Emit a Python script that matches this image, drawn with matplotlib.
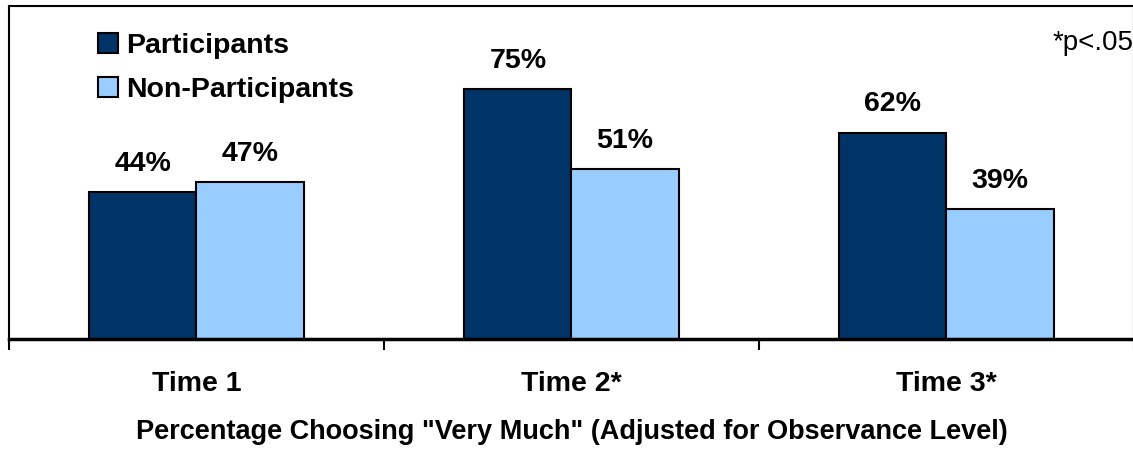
import matplotlib.pyplot as plt
import numpy as np

plt.rcParams['font.family'] = ['Liberation Sans', 'DejaVu Sans']

times = ['Time 1', 'Time 2*', 'Time 3*']
participants = [44, 75, 62]
non_participants = [47, 51, 39]

dark = '#003366'
light = '#99CCFF'

fig = plt.figure(figsize=(11.33, 4.53), dpi=100)
ax = fig.add_axes([9 / 1133, 1 - 339 / 453, 1125 / 1133, 333 / 453])

x = np.arange(len(times))
w = 0.286
b1 = ax.bar(x - w / 2, participants, w, color=dark, edgecolor='black',
            linewidth=1.5, label='Participants')
b2 = ax.bar(x + w / 2, non_participants, w, color=light, edgecolor='black',
            linewidth=1.5, label='Non-Participants')

for bars, vals in [(b1, participants), (b2, non_participants)]:
    for bar, v in zip(bars, vals):
        ax.annotate('%d%%' % v, (bar.get_x() + bar.get_width() / 2, v),
                    xytext=(0, 11), textcoords='offset points',
                    ha='center', va='bottom', fontsize=20.5, fontweight='bold')

ax.set_xlim(-0.5, 2.5)
ax.set_ylim(0, 100)
ax.set_yticks([])

# category labels at centres, tick marks on the boundaries
ax.set_xticks(x)
ax.set_xticklabels(times, fontsize=20.5, fontweight='bold')
ax.set_xticks([-0.5, 0.5, 1.5, 2.5], minor=True)
ax.tick_params(axis='x', which='major', length=0, pad=23)
ax.tick_params(axis='x', which='minor', direction='out', length=8, width=1.5)
ax.set_xlabel('Percentage Choosing "Very Much" (Adjusted for Observance Level)',
              fontsize=19.5, fontweight='bold', labelpad=16)

for s in ['left', 'top', 'right']:
    ax.spines[s].set_linewidth(1.5)
ax.spines['bottom'].set_linewidth(2.5)

ax.text(1.0, 0.89, '*p<.05', transform=ax.transAxes, ha='right',
        va='center', fontsize=20)

leg = ax.legend(loc='upper left', bbox_to_anchor=(0.056, 0.997), frameon=False,
                handlelength=0.72, handleheight=0.72, handletextpad=0.28,
                labelspacing=0.64, prop={'size': 20.5, 'weight': 'bold'})

fig.savefig('out.png', dpi=100)
